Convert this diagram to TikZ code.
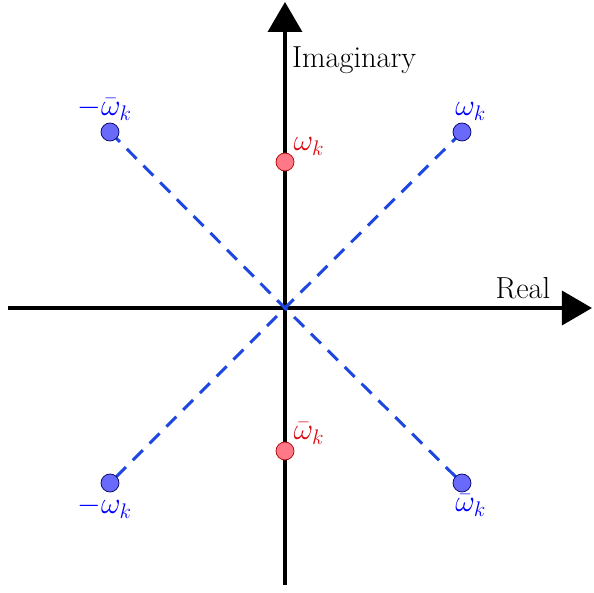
\documentclass[tikz,border=0pt]{standalone}
\usepackage{amsmath,amssymb}
\usetikzlibrary{arrows.meta,positioning}
\definecolor{raycol}{RGB}{30,70,225}
\definecolor{dotblue}{RGB}{105,105,250}
\definecolor{dotred}{RGB}{255,120,135}
\definecolor{labred}{RGB}{215,10,20}

\begin{document}
\begin{tikzpicture}[font=\fontsize{17.3}{20}\selectfont,
  >={Triangle[length=0.6cm,width=0.68cm]},
  axis/.style={line width=2pt,->},
  ray/.style={draw=raycol,line width=1.7pt,dash pattern=on 8pt off 5.5pt},
  bluedot/.style={circle,draw=blue!40!black,fill=dotblue,minimum size=0.36cm,inner sep=0pt},
  reddot/.style={circle,draw=red!70!black,fill=dotred,minimum size=0.36cm,inner sep=0pt},
  bluelab/.style={text=blue,inner sep=1pt},
  redlab/.style={text=labred,inner sep=1pt}]
\useasboundingbox (-5.7,-5.7) rectangle (6.18,6.16);
% axes
\coordinate (o) at (0,0);
\coordinate (xl) at (-5.54,0);
\coordinate (xr) at (6.14,0);
\coordinate (yb) at (0,-5.54);
\coordinate (yt) at (0,6.12);
\draw[axis] (xl) -- (xr);
\draw[axis] (yb) -- (yt);
\node[anchor=west] (imag) at (0.02,4.96) {Imaginary};
\node (real) at (4.76,0.4) {Real};
% roots
\coordinate (tr) at (3.54,3.52);
\coordinate (tl) at (-3.5,3.52);
\coordinate (bl) at (-3.5,-3.5);
\coordinate (br) at (3.54,-3.5);
\draw[ray] (tl) -- (o) -- (br);
\draw[ray] (tr) -- (o) -- (bl);
\node[bluedot] (ptr) at (tr) {};
\node[bluedot] (ptl) at (tl) {};
\node[bluedot] (pbl) at (bl) {};
\node[bluedot] (pbr) at (br) {};
\node[reddot] (rt) at (0,2.92) {};
\node[reddot] (rb) at (0,-2.86) {};
% labels
\node[bluelab,above=0pt of ptr,xshift=5pt] (lptr) {$\omega_k$};
\node[bluelab,above=0pt of ptl,xshift=-3pt] (lptl) {$-\bar{\omega}_k$};
\node[bluelab,below=1pt of pbl,xshift=-3pt] (lpbl) {$-\omega_k$};
\node[bluelab,below=0pt of pbr,xshift=5pt] (lpbr) {$\bar{\omega}_k$};
\node[redlab,above right=-1pt and 0pt of rt] (lrt) {$\omega_k$};
\node[redlab,above right=-1pt and 0pt of rb] (lrb) {$\bar{\omega}_k$};
\end{tikzpicture}
\end{document}
